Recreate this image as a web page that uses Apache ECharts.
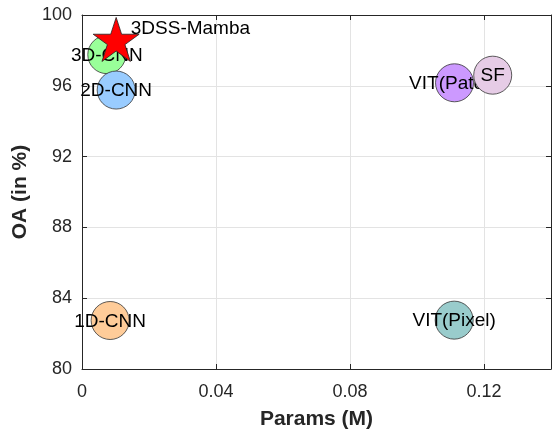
<!DOCTYPE html>
<html>
<head>
<meta charset="utf-8">
<script src="https://cdn.jsdelivr.net/npm/echarts@6/dist/echarts.min.js"></script>
<style>
html, body { margin: 0; padding: 0; background: #fff; }
#chart { width: 560px; height: 435px; }
</style>
</head>
<body>
<div id="chart"></div>
<script>
// models, in drawing order
var modelNames = ['1D-CNN', 'VIT(Pixel)', '3D-CNN', '2D-CNN', 'VIT(Patch)', 'SF'];
var paramsM = [0.0084, 0.1111, 0.0074, 0.0102, 0.1112, 0.1226];
var oaPct = [82.74, 82.76, 97.76, 95.76, 96.17, 96.6];
var modelColors = ['#ffcc99', '#99cccc', '#99ff99', '#99ccff', '#cc99ff', '#e6cce6'];

var oursName = '3DSS-Mamba';
var oursParams = 0.0102;
var oursOA = 98.62;

var xTicks = [0, 0.04, 0.08, 0.12];
var yTicks = [80, 84, 88, 92, 96, 100];

// pentagram outline
function starPath() {
    var pts = [];
    for (var i = 0; i < 10; i++) {
        var r = i % 2 === 0 ? 1 : 0.382;
        var a = -Math.PI / 2 + i * Math.PI / 5;
        pts.push((r * Math.cos(a)).toFixed(4) + ',' + (r * Math.sin(a)).toFixed(4));
    }
    return 'path://M' + pts.join('L') + 'Z';
}

var axisColor = '#262626';
var font = 'Arial, "Liberation Sans", Helvetica, sans-serif';

function baseAxis(pos, withLabels) {
    return {
        type: 'value',
        position: pos,
        axisLine: { show: true, onZero: false, lineStyle: { color: axisColor, width: 1 } },
        axisTick: { show: true, inside: true, length: 5, lineStyle: { color: axisColor } },
        axisLabel: { show: withLabels, color: axisColor, fontSize: 18, fontFamily: font, margin: 10 },
        splitLine: { show: withLabels, lineStyle: { color: '#e3e3e3', width: 1 } }
    };
}

var xBottom = baseAxis('bottom', true);
xBottom.min = 0; xBottom.max = 0.14; xBottom.interval = xTicks[1] - xTicks[0];
xBottom.axisLabel.showMaxLabel = false;
xBottom.axisLabel.margin = 14;
xBottom.axisLabel.formatter = function (v) { return xTicks.indexOf(+v.toFixed(2)) >= 0 ? String(+v.toFixed(2)) : ''; };
xBottom.name = 'Params (M)';
xBottom.nameLocation = 'middle';
xBottom.nameGap = 40;
xBottom.nameTextStyle = { color: axisColor, fontSize: 21, fontWeight: 'bold', fontFamily: font };

var xTop = baseAxis('top', false);
xTop.min = 0; xTop.max = 0.14; xTop.interval = 0.04;

var yLeft = baseAxis('left', true);
yLeft.min = yTicks[0]; yLeft.max = yTicks[yTicks.length - 1]; yLeft.interval = yTicks[1] - yTicks[0];
yLeft.name = 'OA (in %)';
yLeft.nameLocation = 'middle';
yLeft.nameGap = 44;
yLeft.nameTextStyle = { color: axisColor, fontSize: 21, fontWeight: 'bold', fontFamily: font };

var yRight = baseAxis('right', false);
yRight.min = 80; yRight.max = 100; yRight.interval = 4;

var series = [];
for (var i = 0; i < modelNames.length; i++) {
    series.push({
        type: 'scatter',
        name: modelNames[i],
        z: 2 + i,
        symbol: 'circle',
        symbolSize: 38,
        itemStyle: { color: modelColors[i], borderColor: '#333', borderWidth: 0.8, opacity: 1 },
        label: {
            show: true,
            position: 'inside',
            offset: [0, 1],
            formatter: '{a}',
            color: '#000',
            fontSize: 19,
            fontFamily: font
        },
        emphasis: { disabled: true },
        data: [[paramsM[i], oaPct[i]]]
    });
}
series.push({
    type: 'scatter',
    name: oursName,
    z: 20,
    symbol: starPath(),
    symbolSize: [46, 44],
    itemStyle: { color: '#ff0000', borderColor: '#222', borderWidth: 0.8, opacity: 1 },
    label: {
        show: true,
        position: [38, 12],
        verticalAlign: 'middle',
        formatter: '{a}',
        color: '#000',
        fontSize: 19,
        fontFamily: font
    },
    emphasis: { disabled: true },
    data: [[oursParams, oursOA]]
});

var chart = echarts.init(document.getElementById('chart'), null, { renderer: 'canvas' });
chart.setOption({
    animation: false,
    backgroundColor: '#fff',
    grid: { left: 82, right: 9, top: 15, bottom: 63, containLabel: false },
    xAxis: [xBottom, xTop],
    yAxis: [yLeft, yRight],
    series: series
});
</script>
</body>
</html>
